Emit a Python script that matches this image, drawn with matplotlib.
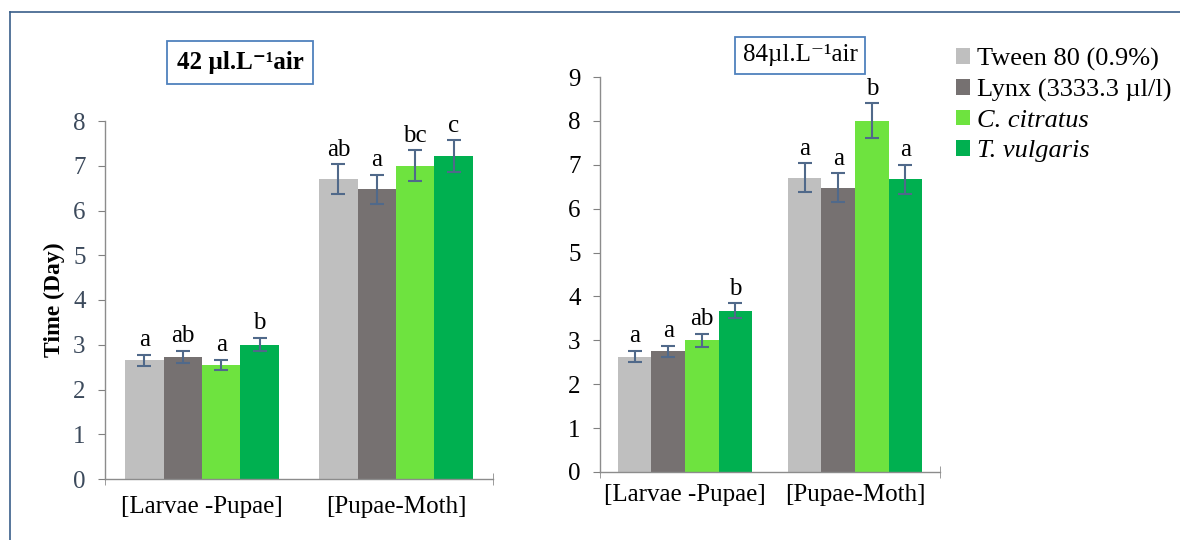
import matplotlib
matplotlib.use("Agg")
import matplotlib.pyplot as plt
from matplotlib.patches import Patch
from matplotlib.lines import Line2D
import numpy as np

plt.rcParams['font.family'] = ['Liberation Serif', 'DejaVu Serif']

categories = ["[Larvae -Pupae]", "[Pupae-Moth]"]
series = ["Tween 80 (0.9%)", "Lynx (3333.3 µl/l)", "C. citratus", "T. vulgaris"]
colors = ["#BFBFBF", "#767171", "#6EE33F", "#00B050"]

# 42 µl.L-1 air
vals_42 = [[2.65, 6.70], [2.73, 6.47], [2.55, 7.00], [3.00, 7.22]]
err_42 = [[0.13, 0.33], [0.13, 0.33], [0.12, 0.35], [0.15, 0.35]]
lett_42 = [["a", "ab"], ["ab", "a"], ["a", "bc"], ["b", "c"]]

# 84 µl.L-1 air
vals_84 = [[2.63, 6.70], [2.75, 6.48], [3.00, 8.00], [3.67, 6.67]]
err_84 = [[0.13, 0.33], [0.13, 0.33], [0.15, 0.40], [0.17, 0.33]]
lett_84 = [["a", "a"], ["a", "a"], ["ab", "b"], ["b", "a"]]

fig = plt.figure(figsize=(11.8, 5.4), dpi=100)
fig.patch.set_facecolor("white")

ax1 = fig.add_axes([105/1180, 1-479/540, 388/1180, 358/540])
ax2 = fig.add_axes([600/1180, 1-472/540, 340/1180, 395/540])

err_color = "#50698A"
bw = 0.198

def draw(ax, vals, errs, letts, ymax, tickcolor, xpad):
    x = np.arange(len(categories))
    for i in range(len(series)):
        xs = x + (i - 1.5) * bw
        ax.bar(xs, vals[i], width=bw, color=colors[i], edgecolor="none", zorder=2)
        ax.errorbar(xs, vals[i], yerr=errs[i], fmt="none", ecolor=err_color,
                    elinewidth=1.5, capsize=5, capthick=1.5, zorder=3)
        for j in range(len(categories)):
            ax.text(xs[j], vals[i][j] + errs[i][j] + 0.08, letts[i][j],
                    ha="center", va="bottom", fontsize=18, color="black")
    ax.set_xlim(-0.5, 1.5)
    ax.set_ylim(0, ymax)
    ax.set_yticks(range(0, ymax + 1))
    ax.set_xticks(x)
    ax.set_xticklabels(categories, fontsize=18)
    ax.tick_params(axis="x", length=0, pad=xpad)
    ax.tick_params(axis="y", direction="out", length=5, color="#808080",
                   labelsize=18, labelcolor=tickcolor, pad=9)
    for s in ["top", "right"]:
        ax.spines[s].set_visible(False)
    for s in ["left", "bottom"]:
        ax.spines[s].set_color("#8C8C8C")
        ax.spines[s].set_linewidth(1.0)
    ax.set_xticks([-0.5, 1.5], minor=True)
    ax.tick_params(axis="x", which="minor", direction="inout", length=8, color="#8C8C8C")

draw(ax1, vals_42, err_42, lett_42, 8, "#3C4A5C", 12)
draw(ax2, vals_84, err_84, lett_84, 9, "black", 9)

ax1.set_ylabel("Time (Day)", fontsize=17, fontweight="bold", labelpad=6)

box1 = dict(boxstyle="square,pad=0.4", facecolor="white", edgecolor="#4F81BD", linewidth=1.3)
box2 = dict(boxstyle="square,pad=0.3", facecolor="white", edgecolor="#4F81BD", linewidth=1.3)
fig.text(240/1180, 1-62/540, "42 µl.L⁻¹air", ha="center", va="center",
         fontsize=18, fontweight="bold", bbox=box1)
fig.text(800/1180, 1-55/540, "84µl.L⁻¹air", ha="center", va="center",
         fontsize=18, bbox=box2)

handles = [Patch(facecolor=c, edgecolor="none") for c in colors]
leg = fig.legend(handles, series, loc="upper left", bbox_to_anchor=(945/1180, 1-37/540),
                 frameon=False, fontsize=19, handlelength=0.55, handleheight=0.55,
                 handletextpad=0.25, labelspacing=0.3, borderaxespad=0)
for t in leg.get_texts()[2:]:
    t.set_fontstyle("italic")

fig.add_artist(Line2D([10/1180, 1.0], [1-12/540, 1-12/540], color="#3A5F8A", lw=1.2))
fig.add_artist(Line2D([10/1180, 10/1180], [0, 1-12/540], color="#3A5F8A", lw=1.2))

fig.savefig("out.png", dpi=100)
